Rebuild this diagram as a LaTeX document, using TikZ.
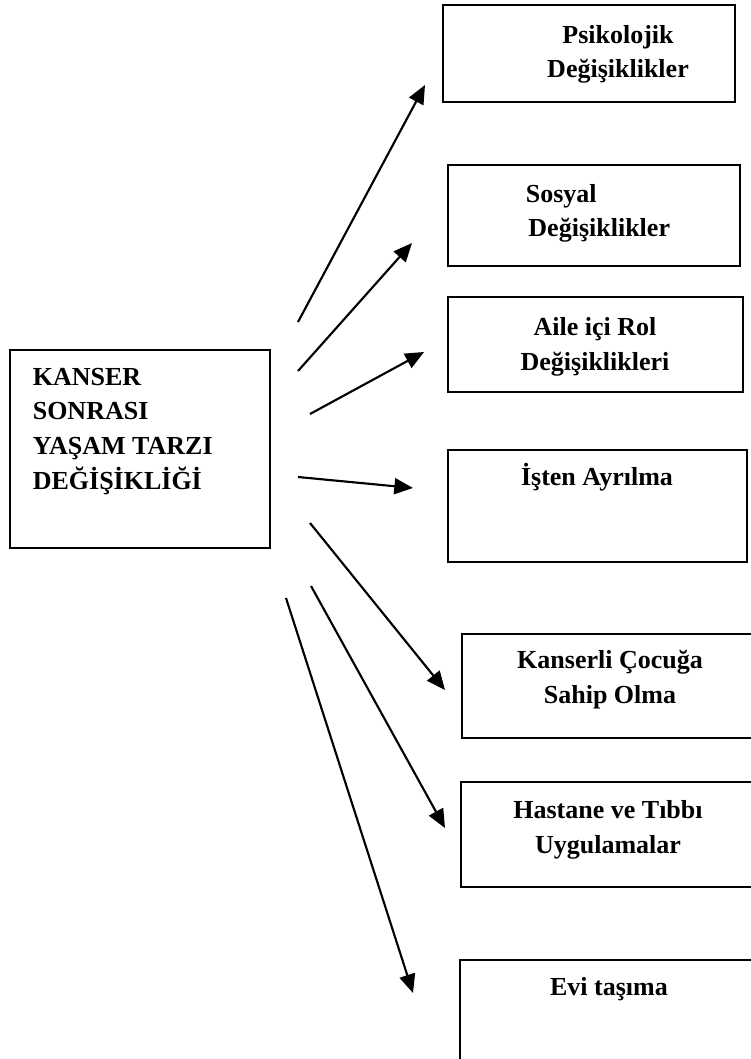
\documentclass[tikz,border=0pt]{standalone}
\usepackage{fontspec}
\setmainfont{Liberation Serif}
\usetikzlibrary{arrows.meta}

\begin{document}
\begin{tikzpicture}[x=0.75pt, y=-0.75pt, line width=1.2pt,
	every node/.style={font=\bfseries\fontsize{19.5}{26}\selectfont, inner sep=0pt},
	pfeil/.style={line width=1.6pt, -{Triangle[length=14pt, width=12pt]}}]
	\useasboundingbox (0,0) rectangle (750,1059); % Rand wie in der Vorlage
	
	% linker Kasten (Anker = Grundlinie der letzten Zeile)
	\draw (10,350) rectangle (270,548);
	\node[anchor=base west, align=left] (kanser) at (32,489) {KANSER\\SONRASI\\YAŞAM TARZI\\DEĞİŞİKLİĞİ};
	
	% rechte Kaesten
	\draw (443,5) rectangle (735,102);
	\node[anchor=base, align=center] (psiko) at (618,78) {Psikolojik\\Değişiklikler};
	
	\draw (448,165) rectangle (740,266);
	\node[anchor=base west, align=left] (sosyal) at (525,237) {Sosyal\\\hspace{2pt}Değişiklikler};
	
	\draw (448,297) rectangle (743,392);
	\node[anchor=base, align=center] (aile) at (595,370) {Aile içi Rol\\Değişiklikleri};
	
	\draw (448,450) rectangle (747,562);
	\node[anchor=base] (isten) at (597,485) {İşten Ayrılma};
	
	\draw (462,634) rectangle (758,738); % rechts abgeschnitten
	\node[anchor=base, align=center] (cocuk) at (610,703) {Kanserli Çocuğa\\Sahip Olma};
	
	\draw (461,782) rectangle (758,887);
	\node[anchor=base, align=center] (hastane) at (608,853) {Hastane ve Tıbbı\\Uygulamalar};
	
	\draw (460,1070) -- (460,960) -- (760,960); % unten abgeschnitten
	\node[anchor=base] (evi) at (609,995) {Evi taşıma};
	
	% Pfeile
	\coordinate (a1) at (298,322);	\coordinate (b1) at (425,85);
	\coordinate (a2) at (298,371);	\coordinate (b2) at (412,243);
	\coordinate (a3) at (310,414);	\coordinate (b3) at (424,352);
	\coordinate (a4) at (298,477);	\coordinate (b4) at (413,488);
	\coordinate (a5) at (310,523);	\coordinate (b5) at (445,690);
	\coordinate (a6) at (311,586);	\coordinate (b6) at (445,828);
	\coordinate (a7) at (286,598);	\coordinate (b7) at (413,993);
	\foreach \i in {1,...,7}
		\draw[pfeil] (a\i) -- (b\i);
	
\end{tikzpicture}
\end{document}
